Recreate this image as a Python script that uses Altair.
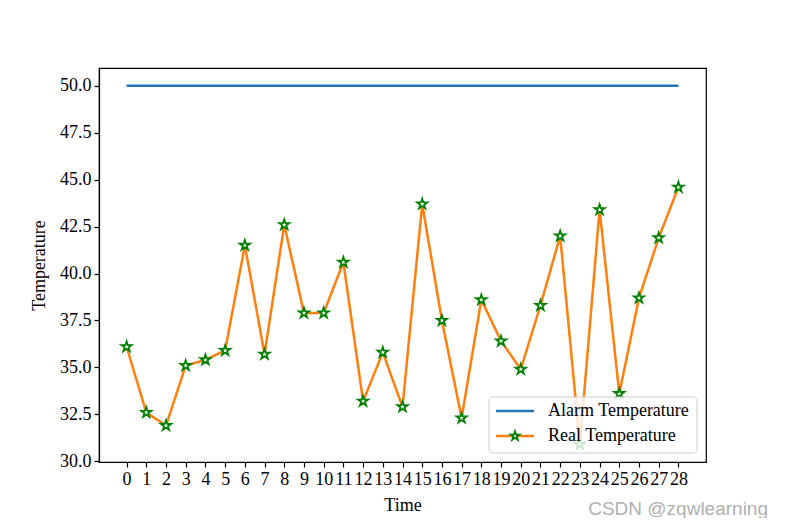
import altair as alt
import pandas as pd

# ---- data ----
time = list(range(29))
real_temp = [36.1, 32.6, 31.9, 35.1, 35.4, 35.9, 41.5, 35.7, 42.6, 37.9,
             37.9, 40.6, 33.2, 35.8, 32.9, 43.7, 37.5, 32.3, 38.6, 36.4,
             34.9, 38.3, 42.0, 30.9, 43.4, 33.6, 38.7, 41.9, 44.6]
alarm_temp = [50.0] * 29
y_ticks = [30.0, 32.5, 35.0, 37.5, 40.0, 42.5, 45.0, 47.5, 50.0]
legend_labels = ["Alarm Temperature", "Real Temperature"]
watermark = "CSDN @zqwlearning"

df = pd.DataFrame({"time": time, "real": real_temp, "alarm": alarm_temp})

FONT = "Liberation Serif"
STAR = ("M0,-1L0.225,-0.309L0.951,-0.309L0.363,0.118L0.588,0.809L0,0.382"
        "L-0.588,0.809L-0.363,0.118L-0.951,-0.309L-0.225,-0.309Z")
BLUE = "#1f77b4"
ORANGE = "#ff7f0e"
GREEN = "#008000"

xs = alt.X("time:Q",
           scale=alt.Scale(domain=[-1.4, 29.4], nice=False, zero=False),
           axis=alt.Axis(values=time, format="d", title="Time",
                         labelOverlap=False, labelFlush=False, titlePadding=8))
ys = alt.Scale(domain=[29.96, 50.95], nice=False, zero=False)
yaxis = alt.Axis(values=y_ticks, format=".1f", title="Temperature",
                 titlePadding=11)

base = alt.Chart(df)

alarm_line = base.mark_line(color=BLUE, strokeWidth=2.5).encode(
    x=xs, y=alt.Y("alarm:Q", scale=ys, axis=yaxis))
real_line = base.mark_line(color=ORANGE, strokeWidth=2.5).encode(
    x=xs, y=alt.Y("real:Q", scale=ys, axis=yaxis))
real_pts = base.mark_point(shape=STAR, size=115, fill="white", fillOpacity=1,
                           stroke=GREEN, strokeWidth=1.8, strokeOpacity=1).encode(
    x=xs, y=alt.Y("real:Q", scale=ys, axis=yaxis))

# ---- legend (decoration) ----
leg_df = pd.DataFrame({"label": legend_labels})
one = leg_df.head(1)
leg_box = alt.Chart(one).mark_rect(
    fill="white", fillOpacity=0.8, stroke="#cccccc", strokeWidth=1,
    cornerRadius=4).encode(
    x=alt.value(390), x2=alt.value(598), y=alt.value(329), y2=alt.value(385))
leg_l1 = alt.Chart(one).mark_rule(color=BLUE, strokeWidth=2.5).encode(
    x=alt.value(397), x2=alt.value(435), y=alt.value(343))
leg_l2 = alt.Chart(one).mark_rule(color=ORANGE, strokeWidth=2.5).encode(
    x=alt.value(397), x2=alt.value(435), y=alt.value(368))
leg_star = alt.Chart(one).mark_point(
    shape=STAR, size=90, fill="white", fillOpacity=1, stroke=GREEN,
    strokeWidth=1.8, strokeOpacity=1).encode(x=alt.value(416), y=alt.value(368))
leg_t1 = alt.Chart(one).mark_text(
    align="left", baseline="middle", font=FONT, fontSize=18, color="black").encode(
    x=alt.value(449), y=alt.value(343), text=alt.value(legend_labels[0]))
leg_t2 = alt.Chart(one).mark_text(
    align="left", baseline="middle", font=FONT, fontSize=18, color="black").encode(
    x=alt.value(449), y=alt.value(368), text=alt.value(legend_labels[1]))

wm = alt.Chart(one).mark_text(
    align="right", baseline="middle", font="Liberation Sans", fontSize=19,
    color="#b0b0b0").encode(
    x=alt.value(669), y=alt.value(441), text=alt.value(watermark))

chart = alt.layer(alarm_line, real_line, real_pts, leg_box, leg_l1, leg_l2,
                  leg_star, leg_t1, leg_t2, wm).properties(
    width=607, height=394,
    padding={"left": 91, "top": 60, "right": 70, "bottom": 56},
    autosize=alt.AutoSizeParams(type="none"),
    background="white",
).configure_view(
    stroke="black", strokeWidth=1.2
).configure_axis(
    labelFont=FONT, labelFontSize=18, labelColor="black",
    titleFont=FONT, titleFontSize=18, titleFontWeight="normal", titleColor="black",
    tickColor="black", tickSize=5, tickWidth=1.2, domainColor="black",
    domainWidth=1.2, grid=False, labelPadding=3
)

chart.save("out.html", embed_options={"renderer": "svg", "actions": False})
